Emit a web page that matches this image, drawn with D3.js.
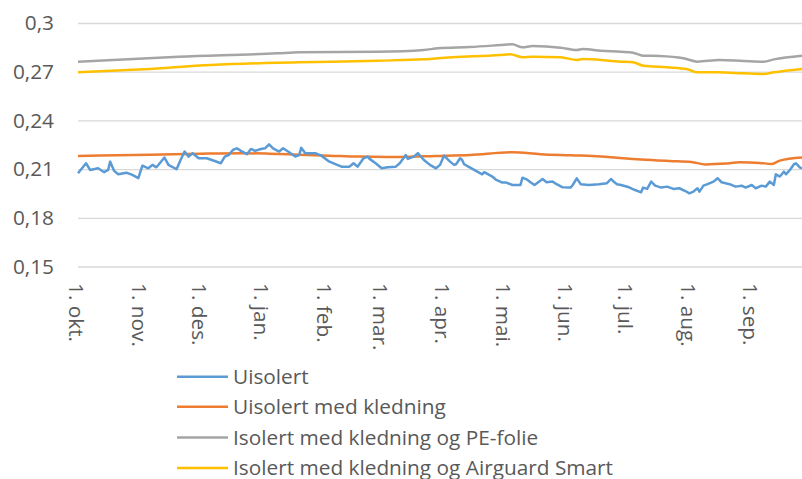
<!DOCTYPE html>
<html>
<head>
<meta charset="utf-8">
<script src="https://cdn.jsdelivr.net/npm/d3@7"></script>
<style>
  body { margin: 0; background: #fff; }
  svg text { font-family: "Open Sans", sans-serif; fill: #595959; }
</style>
</head>
<body>
<div class="viz"></div>
<script>
// day offsets are counted from 1. okt.
var startDate = new Date(2014, 9, 1),
    lastDay = 360;

var monthLabels = [ "1. okt.", "1. nov.", "1. des.", "1. jan.", "1. feb.", "1. mar.", "1. apr.", "1. mai.", "1. jun.", "1. jul.", "1. aug.", "1. sep." ];
var yTicks = [ 0.15, 0.18, 0.21, 0.24, 0.27, 0.3 ];
var yTickLabels = [ "0,15", "0,18", "0,21", "0,24", "0,27", "0,3" ];
var seriesNames = [ "Uisolert", "Uisolert med kledning", "Isolert med kledning og PE-folie", "Isolert med kledning og Airguard Smart" ];
var colors = [ "#5b9bd5", "#ed7d31", "#a5a5a5", "#ffc000" ];

// Uisolert
var uisolertDays = [ 0, 4, 6, 10, 13, 15, 16, 18, 20, 24, 27, 30, 32, 35, 37, 39, 43, 45, 49, 51, 53, 55, 57, 60, 64, 68, 71, 73, 75, 77, 79, 81, 84, 86, 88, 91, 93, 95, 97, 100, 102, 105, 108, 110, 111, 113, 118, 121, 125, 131, 135, 137, 139, 142, 144, 145, 148, 151, 154, 158, 160, 163, 164, 167, 169, 172, 175, 178, 180, 182, 185, 187, 188, 190, 191, 192, 195, 197, 201, 202, 206, 208, 211, 213, 216, 220, 221, 223, 225, 227, 231, 233, 236, 238, 241, 245, 246, 248, 250, 254, 259, 263, 265, 266, 268, 270, 274, 277, 280, 281, 283, 285, 287, 290, 293, 296, 299, 302, 304, 306, 308, 309, 311, 313, 316, 318, 320, 324, 327, 330, 332, 335, 337, 340, 342, 344, 346, 347, 349, 351, 352, 354, 356, 357, 359, 360 ];
var uisolert = [ 0.2074, 0.2136, 0.2095, 0.2105, 0.2081, 0.2095, 0.2146, 0.2089, 0.2068, 0.2078, 0.2064, 0.2044, 0.2121, 0.2105, 0.2126, 0.2111, 0.2171, 0.2126, 0.2099, 0.2156, 0.2208, 0.2177, 0.2198, 0.2167, 0.2167, 0.2150, 0.2136, 0.2177, 0.2187, 0.2218, 0.2228, 0.2212, 0.2192, 0.2224, 0.2212, 0.2224, 0.2228, 0.2253, 0.2228, 0.2208, 0.2228, 0.2204, 0.2177, 0.2187, 0.2232, 0.2198, 0.2198, 0.2183, 0.2146, 0.2115, 0.2115, 0.2136, 0.2115, 0.2167, 0.2177, 0.2163, 0.2136, 0.2105, 0.2111, 0.2115, 0.2136, 0.2187, 0.2163, 0.2177, 0.2198, 0.2156, 0.2126, 0.2105, 0.2126, 0.2183, 0.2146, 0.2126, 0.2130, 0.2167, 0.2156, 0.2130, 0.2109, 0.2095, 0.2068, 0.2081, 0.2054, 0.2033, 0.2017, 0.2017, 0.2002, 0.2002, 0.2047, 0.2037, 0.2019, 0.2002, 0.2039, 0.2019, 0.2023, 0.2007, 0.1988, 0.1986, 0.2002, 0.2043, 0.2007, 0.2002, 0.2007, 0.2013, 0.2039, 0.2027, 0.2007, 0.2002, 0.1988, 0.1971, 0.1957, 0.1986, 0.1978, 0.2023, 0.1998, 0.1986, 0.1992, 0.1978, 0.1982, 0.1965, 0.1951, 0.1961, 0.1982, 0.1961, 0.1998, 0.2007, 0.2023, 0.2044, 0.2019, 0.2007, 0.1992, 0.1998, 0.1986, 0.2002, 0.1982, 0.1998, 0.1992, 0.2023, 0.2002, 0.2068, 0.2054, 0.2084, 0.2068, 0.2095, 0.2130, 0.2136, 0.2109, 0.2105 ];

// Uisolert med kledning
var kledningDays = [ 0, 11, 36, 61, 81, 95, 110, 125, 140, 160, 178, 195, 216, 230, 245, 260, 268, 280, 294, 305, 312, 322, 329, 339, 345, 349, 360 ];
var kledning = [ 0.2180, 0.2184, 0.2189, 0.2195, 0.2198, 0.2195, 0.2189, 0.2183, 0.2177, 0.2175, 0.2181, 0.2187, 0.2204, 0.2192, 0.2185, 0.2178, 0.2170, 0.2159, 0.2150, 0.2144, 0.2129, 0.2134, 0.2142, 0.2138, 0.2132, 0.2152, 0.2171 ];

// Isolert med kledning og PE-folie
var peFolieDays = [ 0, 50, 99, 110, 149, 172, 179, 195, 210, 216, 221, 226, 240, 248, 251, 260, 270, 276, 281, 289, 301, 308, 319, 331, 341, 346, 360 ];
var peFolie = [ 0.2762, 0.2792, 0.2813, 0.2820, 0.2823, 0.2834, 0.2844, 0.2852, 0.2864, 0.2869, 0.2850, 0.2858, 0.2848, 0.2834, 0.2840, 0.2829, 0.2823, 0.2817, 0.2799, 0.2797, 0.2783, 0.2762, 0.2772, 0.2766, 0.2762, 0.2776, 0.2799 ];

// Isolert med kledning og Airguard Smart
var airguardDays = [ 0, 33, 66, 99, 110, 149, 172, 179, 210, 215, 221, 226, 240, 248, 251, 270, 276, 281, 293, 303, 308, 318, 331, 341, 346, 360 ];
var airguard = [ 0.2696, 0.2715, 0.2741, 0.2755, 0.2758, 0.2768, 0.2776, 0.2783, 0.2803, 0.2807, 0.2789, 0.2792, 0.2789, 0.2772, 0.2778, 0.2762, 0.2758, 0.2737, 0.2727, 0.2715, 0.2696, 0.2696, 0.2690, 0.2686, 0.2696, 0.2717 ];

var width = 802,
    height = 479,
    plotLeft = 78,
    plotRight = 802,
    plotTop = 23,
    plotBottom = 266.5,
    fontSize = 20.8;

var svg = d3.select( ".viz" )
    .append( "svg" )
    .attr( "width", width )
    .attr( "height", height );

var x = d3.scaleTime()
    .domain( [ startDate, d3.timeDay.offset( startDate, lastDay ) ] )
    .range( [ plotLeft, plotRight ] );

var y = d3.scaleLinear()
    .domain( [ 0.15, 0.3 ] )
    .range( [ plotBottom, plotTop ] );

// gridlines + y labels
var yAxis = d3.axisLeft( y )
    .tickValues( yTicks )
    .tickSize( -( plotRight - plotLeft ) )
    .tickPadding( 24 )
    .tickFormat( function( d, i ) {
        return yTickLabels[ i ];
    } );

var gy = svg.append( "g" )
    .attr( "transform", "translate(" + plotLeft + ",0)" )
    .call( yAxis );
gy.select( ".domain" ).remove();
gy.selectAll( ".tick line" ).attr( "stroke", "#d9d9d9" ).attr( "stroke-width", 1.3 );
gy.selectAll( ".tick text" ).attr( "font-size", fontSize ).attr( "fill", "#595959" ).style( "font-family", "'Open Sans', sans-serif" );

// month labels, rotated
var months = d3.timeMonth.range( startDate, d3.timeDay.offset( startDate, lastDay ) );
svg.selectAll( ".monthLabel" )
    .data( months )
    .enter()
    .append( "text" )
    .attr( "class", "monthLabel" )
    .attr( "font-size", fontSize )
    .attr( "transform", function( d ) {
        return "translate(" + ( x( d ) - 1.5 ) + ",283) rotate(90)";
    } )
    .attr( "dy", "0.35em" )
    .text( function( d, i ) {
        return monthLabels[ i ];
    } );

var series = [
    { days: uisolertDays, vals: uisolert },
    { days: kledningDays, vals: kledning },
    { days: peFolieDays, vals: peFolie },
    { days: airguardDays, vals: airguard }
];

var line = d3.line()
    .x( function( d ) { return x( d3.timeDay.offset( startDate, d[ 0 ] ) ); } )
    .y( function( d ) { return y( d[ 1 ] ); } );

// draw in reverse so Uisolert sits on top
for ( var s = series.length - 1; s >= 0; s-- ) {
    var pts = d3.zip( series[ s ].days, series[ s ].vals );
    svg.append( "path" )
        .datum( pts )
        .attr( "fill", "none" )
        .attr( "stroke", colors[ s ] )
        .attr( "stroke-width", 2.5 )
        .attr( "stroke-linejoin", "round" )
        .attr( "d", line.curve( s === 0 ? d3.curveLinear : d3.curveMonotoneX ) );
}

// legend
var legendY = [ 376.7, 406.7, 437.5, 468 ];
var legend = svg.selectAll( ".legend" )
    .data( seriesNames )
    .enter()
    .append( "g" )
    .attr( "class", "legend" )
    .attr( "transform", function( d, i ) {
        return "translate(0," + legendY[ i ] + ")";
    } );

legend.append( "line" )
    .attr( "x1", 177 )
    .attr( "x2", 228 )
    .attr( "stroke", function( d, i ) { return colors[ i ]; } )
    .attr( "stroke-width", 2.5 );

legend.append( "text" )
    .attr( "x", 233 )
    .attr( "dy", "0.35em" )
    .attr( "font-size", fontSize )
    .text( function( d ) { return d; } );
</script>
</body>
</html>
